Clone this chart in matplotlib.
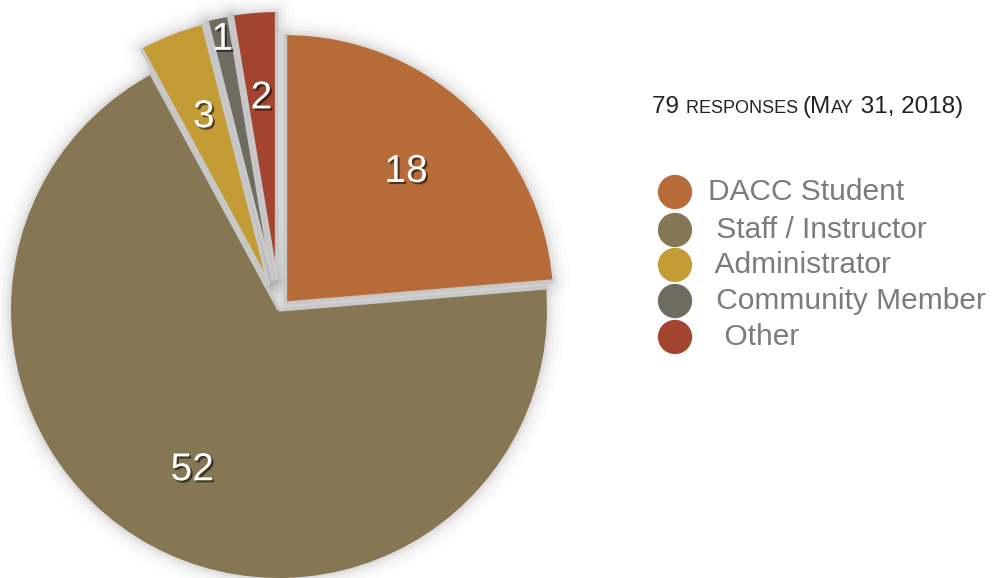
import matplotlib
matplotlib.use("Agg")
import matplotlib.pyplot as plt
import matplotlib.patheffects as pe
from matplotlib.patches import Wedge
import numpy as np

# survey breakdown
categories = ["DACC Student", "Staff / Instructor", "Administrator", "Community Member", "Other"]
counts = [18, 52, 3, 1, 2]
legend_labels = ["DACC Student", " Staff / Instructor", " Administrator", " Community Member", "  Other"]
colors = ["#B66B39", "#857654", "#C49C36", "#6E6C5F", "#A2442F"]
explode = [0.035, 0.0, 0.102, 0.11, 0.112]
label_dist = [0.665, 0.68, 0.67, 0.92, 0.68]
title_parts = [("79 ", 17.5), ("RESPONSES ", 13), ("(M", 17.5), ("AY", 13), (" 31, 2018)", 17.5)]

W, H = 1000, 578
fig = plt.figure(figsize=(W / 100, H / 100), dpi=100)
ax = fig.add_axes([0, 0, 1, 1])

cx, cy, R = 279, H - 310, 268
# pie's explode offset is in data units, so scale by radius
wedges, _ = ax.pie(
    counts, colors=colors, explode=[e * R for e in explode], startangle=90,
    counterclock=False, center=(cx, cy), radius=R,
    wedgeprops=dict(linewidth=0),
)
ax.set_xlim(0, W)
ax.set_ylim(0, H)
ax.set_aspect("equal")
ax.axis("off")

for w in wedges:
    w.set_zorder(3)
    # soft drop shadow: stacked translucent outlines behind each slice
    for lw, a in [(26, 0.012), (19, 0.016), (13, 0.022), (8, 0.03), (4, 0.045)]:
        sh = Wedge(w.center, w.r, w.theta1, w.theta2, facecolor="none",
                   edgecolor=(0, 0, 0, a), linewidth=lw, joinstyle="round", zorder=1)
        sh.set_transform(w.get_transform())
        ax.add_patch(sh)
    # light grey seams along the radial edges
    for th in (w.theta1, w.theta2):
        t = np.deg2rad(th)
        ax.plot([w.center[0], w.center[0] + w.r * np.cos(t)],
                [w.center[1], w.center[1] + w.r * np.sin(t)],
                color="#c8c8c8", lw=2.4, solid_capstyle="butt", zorder=4)

# value labels
shadow = [pe.withSimplePatchShadow(offset=(1.5, -1.5), shadow_rgbFace="black", alpha=0.55)]
for w, n, d in zip(wedges, counts, label_dist):
    th = np.deg2rad((w.theta1 + w.theta2) / 2)
    x = w.center[0] + d * w.r * np.cos(th)
    y = w.center[1] + d * w.r * np.sin(th)
    ax.text(x, y, str(n), color="white", fontsize=28, family="Liberation Sans",
            ha="center", va="center", zorder=5, path_effects=shadow)

# small-caps style heading, pieced together
renderer = fig.canvas.get_renderer()
tx, ty = 652, H - 113
for s, size in title_parts:
    t = ax.text(tx, ty, s, fontsize=size, color="#222222", ha="left", va="baseline",
                family="Liberation Sans")
    bb = t.get_window_extent(renderer)
    tx += bb.width

# legend
ly = [H - 192, H - 230, H - 265, H - 301, H - 337]
ax.scatter([675] * len(categories), ly, s=560, c=colors, zorder=4)
for lab, y in zip(legend_labels, ly):
    ax.text(708, y, lab, fontsize=21.5, color="#7b7b7b", va="center", ha="left",
            family="Liberation Sans")

fig.savefig("out.png", dpi=100)
